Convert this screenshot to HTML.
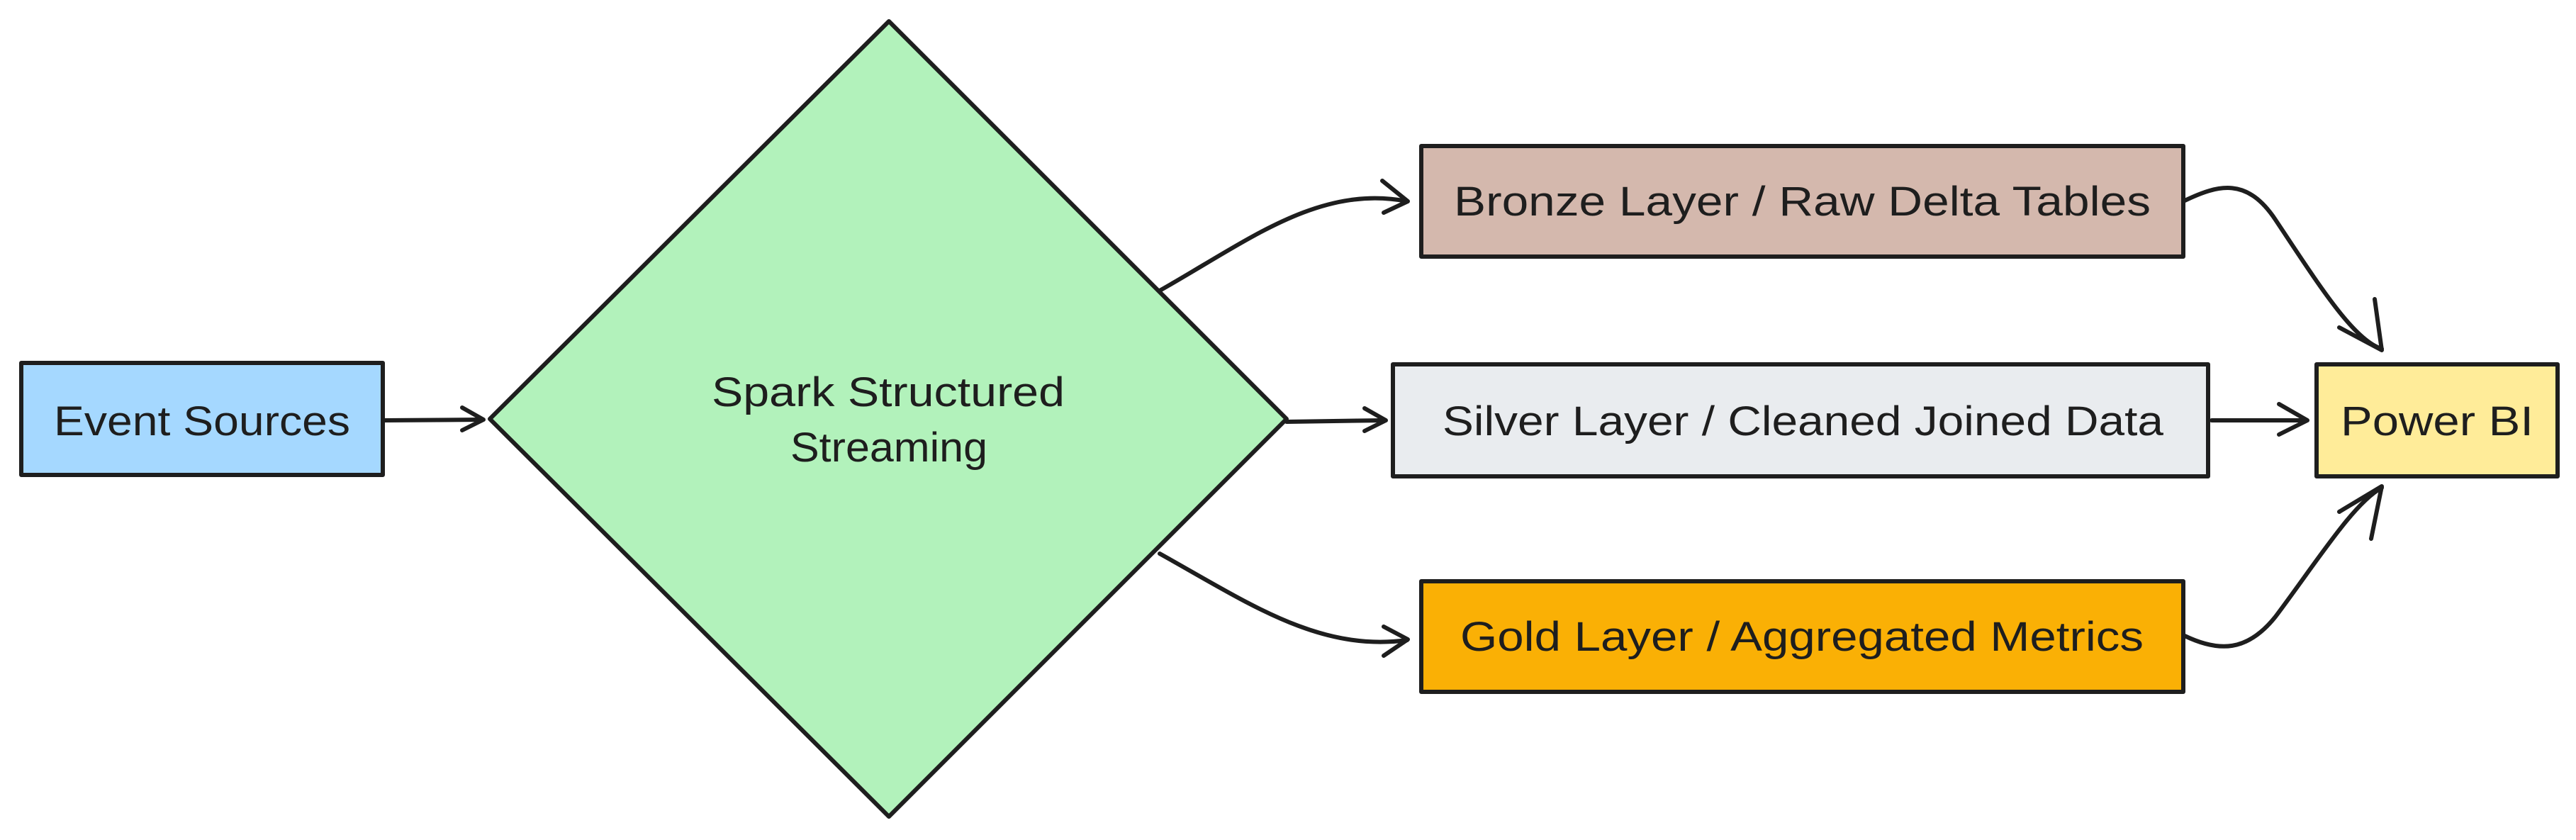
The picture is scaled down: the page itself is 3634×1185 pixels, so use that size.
<!DOCTYPE html>
<html><head><meta charset="utf-8"><style>
html,body{margin:0;padding:0;background:#fff;}
svg{display:block;}
text{font-family:"Liberation Sans",sans-serif;fill:#1e1e1e;font-size:58px;}
</style></head><body>
<svg width="3634" height="1185" viewBox="0 0 3634 1185" xmlns="http://www.w3.org/2000/svg">
<g stroke="#1e1e1e" stroke-width="6" stroke-linejoin="round" stroke-linecap="round">
<rect x="30" y="512" width="510" height="158" fill="#a5d8ff"/>
<polygon points="1254,30 1815,591 1254,1152 691,591" fill="#b2f2bb"/>
<rect x="2005" y="206" width="1075" height="156" fill="#d4b8ad"/>
<rect x="1965" y="514" width="1150" height="158" fill="#e9ecef"/>
<rect x="2005" y="820" width="1075" height="156" fill="#fab005"/>
<rect x="3268" y="514" width="340" height="158" fill="#ffec99"/>
<g fill="none">
<path d="M542 593 L680 592"/><path d="M652 575 L682 592 L652 607"/>
<path d="M1636 410 C1760 340 1860 260 1985 284"/><path d="M1950 255 L1986 284 L1952 300"/>
<path d="M1815 595 L1952 593"/><path d="M1925 576 L1955 593 L1925 608"/>
<path d="M1636 781 C1760 850 1860 920 1985 903"/><path d="M1952 884 L1986 902 L1952 925"/>
<path d="M3082 283 C3130 260 3170 250 3210 310 C3270 400 3320 480 3360 492"/><path d="M3300 462 L3360 494 L3350 422"/>
<path d="M3120 593 L3252 593"/><path d="M3215 570 L3255 593 L3215 613"/>
<path d="M3082 897 C3130 920 3170 920 3210 870 C3270 790 3320 710 3360 688"/><path d="M3300 722 L3360 686 L3345 760"/>
</g>
</g>
<text x="76" y="614" textLength="418" lengthAdjust="spacingAndGlyphs">Event Sources</text>
<text x="1004" y="573" textLength="498" lengthAdjust="spacingAndGlyphs">Spark Structured</text>
<text x="1115" y="651" textLength="278" lengthAdjust="spacingAndGlyphs">Streaming</text>
<text x="2051" y="304" textLength="983" lengthAdjust="spacingAndGlyphs">Bronze Layer / Raw Delta Tables</text>
<text x="2035" y="614" textLength="1017" lengthAdjust="spacingAndGlyphs">Silver Layer / Cleaned Joined Data</text>
<text x="2060" y="918" textLength="964" lengthAdjust="spacingAndGlyphs">Gold Layer / Aggregated Metrics</text>
<text x="3302" y="614" textLength="272" lengthAdjust="spacingAndGlyphs">Power BI</text>
</svg>
</body></html>
